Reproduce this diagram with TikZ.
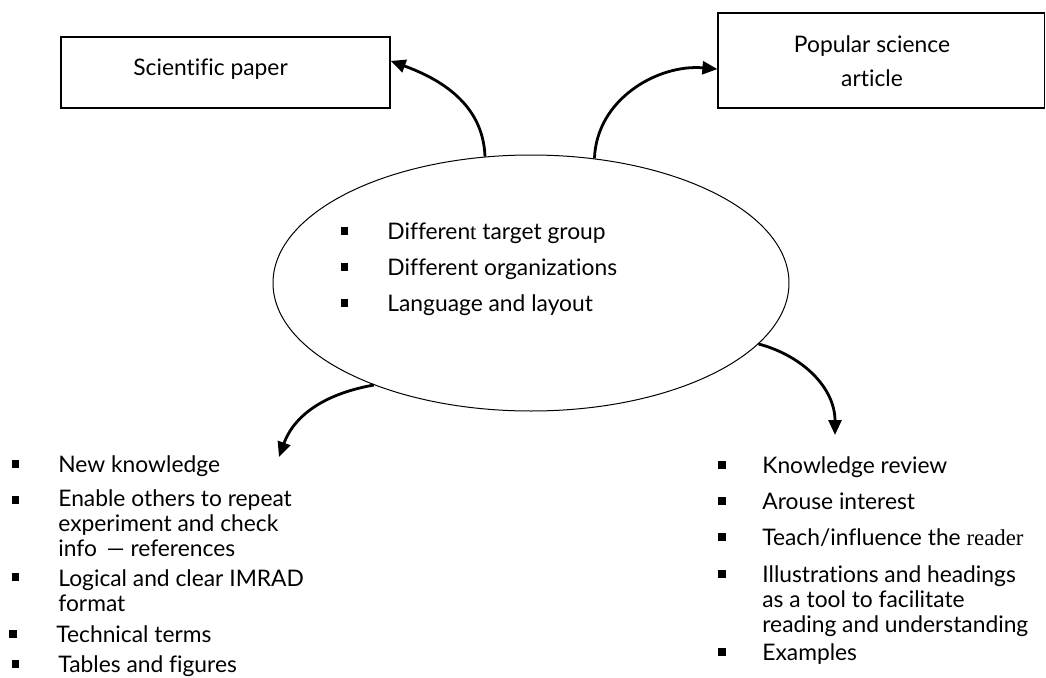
\documentclass[tikz,border=0pt]{standalone}
\usepackage{fontspec}
\setmainfont{Lato}[Ligatures=NoCommon]
\newfontfamily\serif{Liberation Serif}
\usetikzlibrary{shapes.geometric,arrows.meta}

\tikzset{
  box/.style={draw, line width=0.6pt, inner sep=0pt},
  sq/.style={fill, rectangle, inner sep=0pt, minimum size=3.6pt},
  txt/.style={anchor=base west, inner sep=0pt, align=left, font=\fontsize{11.4}{12.5}\selectfont},
  arr/.style={line width=1.4pt, -{Triangle[length=7.5pt,width=6.5pt]}}
}

\begin{document}
\begin{tikzpicture}[x=0.5pt, y=0.5pt]
\useasboundingbox (0,0) rectangle (1046,677);

% boxes and ellipse
\node[box, minimum width=164.5pt, minimum height=35.5pt] (sci) at (225.5,604.5) {};
\node[box, minimum width=163.25pt, minimum height=47.5pt] (pop) at (881.25,616.5) {};
\node[draw, ellipse, line width=0.5pt, inner sep=0pt, minimum width=258pt, minimum height=128pt] (ell) at (531,394) {};

\node[txt] (scit) at (133,602) {Scientific paper};
\node[txt, anchor=base, align=center] (popt) at (872,591) {Popular science\\[4.5pt]article};

% inside the ellipse
\node[sq] (e1) at (344.5,446) {};
\node[txt] (et1) at (387,438) {Differen{\serif t} target group};
\node[sq] (e2) at (344.5,410) {};
\node[txt] (et2) at (387,402) {Different organizations};
\node[sq] (e3) at (344.5,374) {};
\node[txt] (et3) at (387,366) {Language and layout};

% left list (base = last line)
\node[sq] (l1) at (15.5,213) {};
\node[txt] (lt1) at (58,205) {New knowledge};
\node[sq] (l2) at (15.5,177) {};
\node[txt] (lt2) at (58,121) {Enable others to repeat\\experiment and check\\info\, --- references};
\node[sq] (l3) at (15.5,100) {};
\node[txt] (lt3) at (58,66) {Logical and clear IMRAD\\format};
\node[sq] (l4) at (13,43) {};
\node[txt] (lt4) at (56,35) {Technical terms};
\node[sq] (l5) at (15.5,13) {};
\node[txt] (lt5) at (58,5) {Tables and figures};

% right list
\node[sq] (r1) at (722,212) {};
\node[txt] (rt1) at (762,204) {Knowledge review};
\node[sq] (r2) at (722,176) {};
\node[txt] (rt2) at (762,168) {Arouse interest};
\node[sq] (r3) at (722,140) {};
\node[txt] (rt3) at (762,132) {Teach/influence the {\serif reader}};
\node[sq] (r4) at (722,103) {};
\node[txt] (rt4) at (762,45) {Illustrations and headings\\as a tool to facilitate\\reading and understanding};
\node[sq] (r5) at (722,25) {};
\node[txt] (rt5) at (762,17) {Examples};

% arrows
\coordinate (lend) at (279,220);
\coordinate (rend) at (835,242);
\draw[arr] (ell.110) to[out=92, in=-20] (sci.4);
\draw[arr] (ell.63) to[out=88, in=175] (pop.183);
\draw[arr] (ell.213) to[out=190, in=70] (lend);
\draw[arr] (ell.345) to[out=-15, in=90] (rend);
\end{tikzpicture}
\end{document}
